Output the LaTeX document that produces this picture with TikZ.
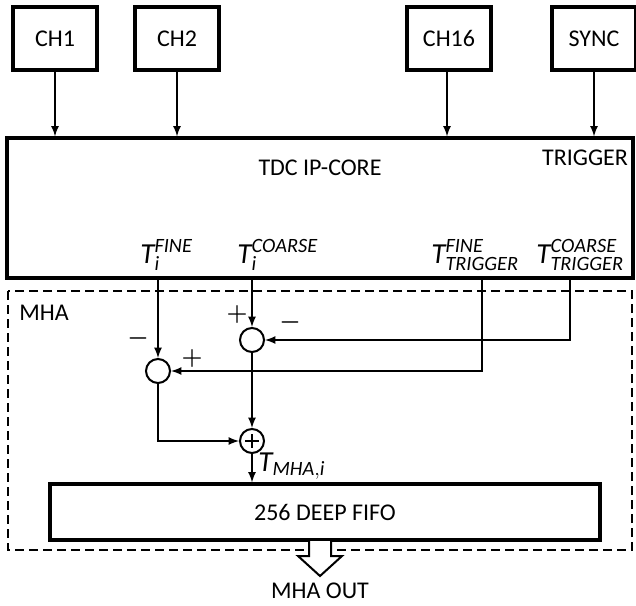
\documentclass[tikz,border=0pt]{standalone}
\usepackage{fontspec}
\setmainfont{Carlito}
\newcommand{\lblfont}{\fontsize{12}{14}\selectfont}
\newcommand{\tlab}[3]{$\mathit{#1}_{\mathit{#2}}^{\mathit{#3}}$}

\begin{document}
\begin{tikzpicture}[x=0.5pt, y=-0.5pt,
    chbox/.style={draw, line width=1.6pt, minimum width=42pt, minimum height=31.5pt, font=\lblfont},
    core/.style={draw, line width=1.6pt, minimum width=313pt, minimum height=70pt},
    fifobox/.style={draw, line width=1.6pt, minimum width=275pt, minimum height=28pt, font=\lblfont},
    sumc/.style={draw, circle, line width=1pt, minimum size=12pt, inner sep=0pt},
    lbl/.style={font=\lblfont, inner sep=1pt},
    tlbl/.style={font=\fontsize{14.5}{16}\selectfont\bfseries, inner sep=0pt, anchor=base west},
    sign/.style={font=\fontsize{13}{15}\selectfont\boldmath, inner sep=0pt},
    arrow/.style={-latex, line width=0.8pt},
    mhabox/.style={line width=1.3pt, dash pattern=on 4.5pt off 2.5pt}
  ]
    \useasboundingbox (0,0) rectangle (636,605);
    \node[chbox] (ch1) at (55,38.5) {CH1};
    \node[chbox] (ch2) at (177,38.5) {CH2};
    \node[chbox] (ch16) at (449,38.5) {CH16};
    \node[chbox] (sync) at (594,38.5) {SYNC};
    \node[core] (tdc) at (320,208) {};
    \node[lbl] (tdcname) at (320,168) {TDC IP-CORE};
    \node[lbl] (trig) at (585,158) {TRIGGER};
    \draw[arrow] (ch1) -- (ch1 |- tdc.north);
    \draw[arrow] (ch2) -- (ch2 |- tdc.north);
    \draw[arrow] ([xshift=-1pt]ch16.south) -- ([xshift=-1pt]ch16.south |- tdc.north);
    \draw[arrow] (sync) -- (sync |- tdc.north);
    \node[tlbl] (tifine) at (140,263) {\tlab{T}{i}{FINE}};
    \node[tlbl] (ticoarse) at (237,263) {\tlab{T}{i}{COARSE}};
    \node[tlbl] (ttfine) at (431,263) {\tlab{T}{TRIGGER}{FINE}};
    \node[tlbl] (ttcoarse) at (536,263) {\tlab{T}{TRIGGER}{COARSE}};
    \draw[mhabox] (8,291) rectangle (632,550);
    \node[lbl] (mha) at (44,313) {MHA};
    \node[sumc] (sub1) at (158,371) {};
    \node[sumc] (sub2) at (252,340) {};
    \node[sumc] (add) at (252,441) {};
    \draw[line width=1pt] ([yshift=-3pt]add.north) -- ([yshift=3pt]add.south);
    \draw[line width=1pt] ([xshift=3pt]add.west) -- ([xshift=-3pt]add.east);
    \coordinate (tfx) at (482,278);
    \coordinate (tcx) at (570,278);
    \draw[arrow] (tdc.south -| sub1) -- (sub1);
    \draw[arrow] (tdc.south -| sub2) -- (sub2);
    \draw[arrow] (tfx) |- (sub1);
    \draw[arrow] (tcx) |- (sub2);
    \draw[arrow] (sub1) |- (add);
    \draw[arrow] (sub2) -- (add);
    \node[sign] (m1) at (138,338) {$-$};
    \node[sign] (p1) at (192,358) {$+$};
    \node[sign] (p2) at (237,314) {$+$};
    \node[sign] (m2) at (290,322) {$-$};
    \node[fifobox] (fifo) at (325,512) {256 DEEP FIFO};
    \draw[arrow] (add) -- (add |- fifo.north);
    \node[tlbl] (tmha) at (258,471) {$\mathit{T}_{\mathit{MHA,i}}$};
    \draw[line width=1pt, fill=white] (309,541) -- (309,556) -- (298,556) -- (320,576) -- (342,556) -- (331,556) -- (331,541);
    \node[lbl] (out) at (320,591) {MHA OUT};
  \end{tikzpicture}
\end{document}
